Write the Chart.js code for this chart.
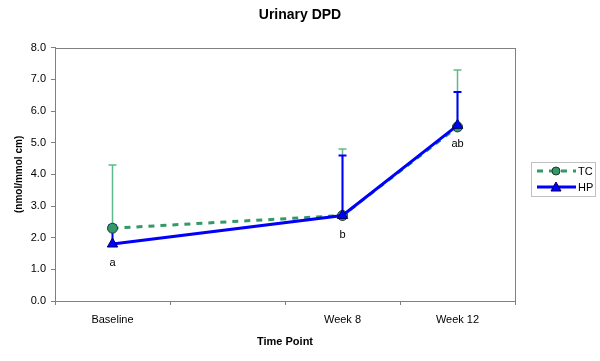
<!DOCTYPE html>
<html>
<head>
<meta charset="utf-8">
<script src="https://cdn.jsdelivr.net/npm/chart.js@4.4.0/dist/chart.umd.min.js"></script>
<style>
  html, body { margin: 0; padding: 0; background: #fff; }
  #wrap { width: 600px; height: 361px; }
</style>
</head>
<body>
<div id="wrap"><canvas id="grafico" width="600" height="361"></canvas></div>
<script>
// Dados
const categorias = ['Baseline', '', 'Week 8', 'Week 12'];
const tcMedia = [2.3, null, 2.7, 5.5];
const tcSuperior = [4.3, null, 4.8, 7.3];
const hpMedia = [1.8, null, 2.7, 5.55];
const hpSuperior = [2.4, null, 4.6, 6.6];
const letras = ['a', '', 'b', 'ab'];

const FONTE = '"Liberation Sans", Arial, sans-serif';
const VERDE = '#339966';
const AZUL = '#0000FF';
const CINZA = '#808080';

// Barras de erro (só para cima) desenhadas pelas escalas
const pluginErro = {
    id: 'barrasErro',
    beforeDatasetsDraw(chart) {
        const ctx = chart.ctx;
        const y = chart.scales.y;
        chart.data.datasets.forEach((ds, di) => {
            const meta = chart.getDatasetMeta(di);
            ctx.save();
            ctx.strokeStyle = ds.corErro;
            ctx.lineWidth = ds.larguraErro;
            ds.superior.forEach((sup, i) => {
                if (sup == null || ds.data[i] == null) return;
                const px = meta.data[i].x;
                const y0 = y.getPixelForValue(ds.data[i]);
                const y1 = y.getPixelForValue(sup);
                ctx.beginPath();
                ctx.moveTo(px, y0);
                ctx.lineTo(px, y1);
                ctx.moveTo(px - 4, y1);
                ctx.lineTo(px + 4, y1);
                ctx.stroke();
            });
            ctx.restore();
        });
    }
};

// Moldura da área do gráfico, letras e legenda
const pluginExtras = {
    id: 'extras',
    afterDraw(chart) {
        const ctx = chart.ctx;
        const a = chart.chartArea;
        ctx.save();
        ctx.strokeStyle = CINZA;
        ctx.lineWidth = 1;
        ctx.strokeRect(Math.round(a.left) + 0.5, Math.round(a.top) + 0.5,
            Math.round(a.right - a.left), Math.round(a.bottom - a.top));

        // letras de significância abaixo dos pontos HP
        const metaHP = chart.getDatasetMeta(1);
        ctx.fillStyle = '#000';
        ctx.font = '11px ' + FONTE;
        ctx.textAlign = 'center';
        ctx.textBaseline = 'middle';
        letras.forEach((t, i) => {
            if (!t) return;
            const p = metaHP.data[i];
            ctx.fillText(t, p.x, p.y + 19);
        });

        // legenda
        const lx = 531, ly = 162, lw = 64, lh = 34;
        ctx.strokeStyle = '#c0c0c0';
        ctx.strokeRect(lx + 0.5, ly + 0.5, lw, lh);
        ctx.textAlign = 'left';
        chart.data.datasets.forEach((ds, i) => {
            const cy = ly + 9 + i * 16;
            ctx.strokeStyle = ds.borderColor;
            ctx.lineWidth = ds.borderWidth;
            ctx.setLineDash(ds.borderDash || []);
            ctx.beginPath();
            ctx.moveTo(537, cy);
            ctx.lineTo(576, cy);
            ctx.stroke();
            ctx.setLineDash([]);
            ctx.fillStyle = ds.pointBackgroundColor;
            ctx.strokeStyle = ds.pointBorderColor;
            ctx.lineWidth = 1;
            ctx.beginPath();
            if (ds.pointStyle === 'circle') {
                ctx.arc(556, cy, 4, 0, Math.PI * 2);
            } else {
                ctx.moveTo(556, cy - 5);
                ctx.lineTo(561, cy + 4);
                ctx.lineTo(551, cy + 4);
                ctx.closePath();
            }
            ctx.fill();
            ctx.stroke();
            ctx.fillStyle = '#000';
            ctx.fillText(ds.label, 578, cy + 1);
        });
        ctx.restore();
    }
};

new Chart(document.getElementById('grafico'), {
    type: 'line',
    data: {
        labels: categorias,
        datasets: [
            {
                label: 'TC',
                data: tcMedia,
                superior: tcSuperior,
                corErro: '#5fb98a',
                larguraErro: 1.5,
                borderColor: VERDE,
                borderWidth: 3,
                borderDash: [6, 6],
                pointStyle: 'circle',
                pointRadius: 5,
                pointBackgroundColor: VERDE,
                pointBorderColor: '#1d3b2b',
                pointBorderWidth: 1,
                spanGaps: true,
                order: 2
            },
            {
                label: 'HP',
                data: hpMedia,
                superior: hpSuperior,
                corErro: AZUL,
                larguraErro: 2,
                borderColor: AZUL,
                borderWidth: 3,
                pointStyle: 'triangle',
                pointRadius: 6,
                pointBackgroundColor: AZUL,
                pointBorderColor: '#000060',
                pointBorderWidth: 1,
                spanGaps: true,
                order: 1
            }
        ]
    },
    options: {
        responsive: false,
        animation: false,
        events: [],
        layout: { padding: { left: 0, right: 0, top: 0, bottom: 12 } },
        plugins: {
            legend: { display: false },
            tooltip: { enabled: false },
            title: {
                display: true,
                text: 'Urinary DPD',
                color: '#000',
                font: { family: FONTE, size: 14, weight: 'bold' },
                padding: { top: 7, bottom: 24 }
            }
        },
        scales: {
            x: {
                type: 'category',
                offset: true,
                grid: { offset: true, drawOnChartArea: false, tickLength: 4, color: CINZA },
                border: { color: CINZA },
                ticks: { color: '#000', font: { family: FONTE, size: 11 }, padding: 8, autoSkip: false, maxRotation: 0 },
                title: {
                    display: true,
                    text: 'Time Point',
                    color: '#000',
                    font: { family: FONTE, size: 11, weight: 'bold' },
                    padding: { top: 6, bottom: 0 }
                },
                afterFit(s) { s.height = 48; }
            },
            y: {
                min: 0,
                max: 8,
                grid: { drawOnChartArea: false, tickLength: 4, color: CINZA },
                border: { color: CINZA },
                ticks: {
                    stepSize: 1,
                    color: '#000',
                    font: { family: FONTE, size: 11 },
                    padding: 5,
                    callback: v => v.toFixed(1)
                },
                title: {
                    display: true,
                    text: '(nmol/mmol cm)',
                    color: '#000',
                    font: { family: FONTE, size: 10, weight: 'bold' },
                    padding: { top: 13, bottom: 0 }
                },
                afterFit(s) { s.width = 55; }
            },
            // eixo vazio só para reservar o espaço da legenda à direita
            espacoLegenda: {
                type: 'linear',
                position: 'right',
                display: true,
                grid: { display: false },
                border: { display: false },
                ticks: { display: false },
                afterFit(s) { s.width = 85; }
            }
        }
    },
    plugins: [pluginErro, pluginExtras]
});
</script>
</body>
</html>
